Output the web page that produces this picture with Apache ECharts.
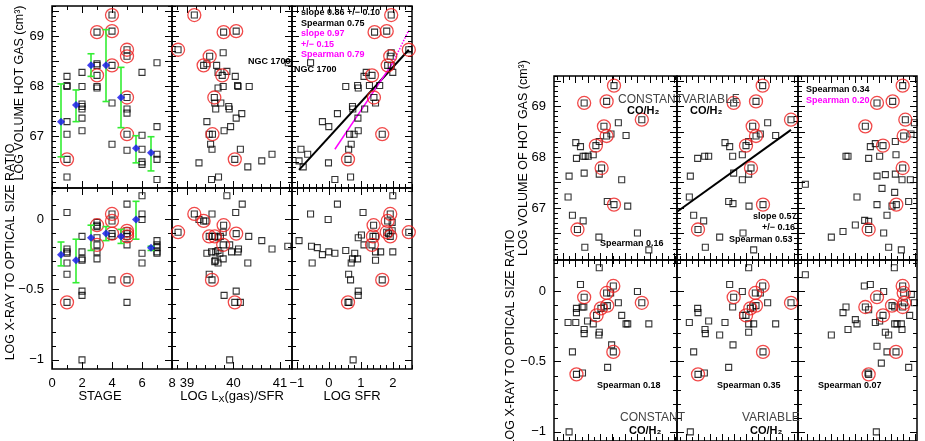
<!DOCTYPE html>
<html><head><meta charset="utf-8">
<script src="https://cdn.jsdelivr.net/npm/echarts@6/dist/echarts.min.js"></script>
<style>html,body{margin:0;padding:0;background:#fff}#c{width:925px;height:441px}</style>
</head><body><div id="c"></div>
<script>
// ---------- DATA: [x, y, circled(1) ] ----------
const stageVol = [[1,68.2,0],[1,68.02,0],[1,68.0,0],[1,67.3,0],[1,67.05,0],[1,66.55,1],[1,66.2,0],[2,68.28,0],[2,68.0,0],[2,67.65,0],[2,67.6,0],[2,67.55,0],[2,67.37,0],[2,67.12,0],[3,69.08,1],[3,68.45,0],[3,68.42,0],[3,68.22,1],[3,68.0,0],[3,67.97,0],[4,69.42,1],[4,69.1,1],[4,68.42,1],[4,67.67,0],[4,66.85,0],[5,68.73,1],[5,68.6,1],[5,67.78,1],[5,67.55,0],[5,67.47,0],[5,67.05,1],[5,66.73,0],[6,68.28,0],[6,67.03,0],[6,66.75,0],[6,66.5,0],[6,66.45,0],[7,68.47,0],[7,67.2,0],[7,66.65,0],[7,66.55,0],[7,66.15,0]];
const stageVolMean = [[0.6,67.3,66.6,68.05],[1.6,67.63,67.3,67.93],[2.6,68.42,68.2,68.65],[3.6,68.42,67.7,69.13],[4.6,67.78,67.18,68.38],[5.6,66.77,66.48,67.02],[6.6,66.68,66.32,67.0]];
const lxVol = [[38.81,68.73,1],[39.16,69.42,1],[39.36,68.42,1],[39.43,68.45,0],[39.49,68.6,1],[39.64,68.42,0],[39.78,68.67,0],[39.67,68.28,0],[39.86,68.3,0],[39.76,68.22,1],[39.67,67.97,0],[39.78,68.0,0],[39.59,67.78,1],[39.6,67.67,0],[39.62,67.55,0],[39.73,67.67,0],[39.9,67.6,0],[39.91,67.55,0],[40.04,68.2,0],[40.09,68.02,0],[40.1,68.0,0],[40.34,68.0,0],[39.79,69.08,1],[40.06,69.1,1],[39.43,67.3,0],[39.48,67.05,0],[39.55,67.05,1],[39.8,67.12,0],[39.94,67.2,0],[40.06,67.37,0],[40.18,67.46,0],[39.51,66.85,0],[39.54,66.75,0],[40.15,66.75,0],[40.03,66.55,1],[39.26,66.48,0],[40.31,66.4,0],[40.61,66.52,0],[40.83,66.65,0],[39.53,66.15,0],[39.68,66.2,0],[41.18,68.47,0]];
const sfrVol = [[-0.93,66.52,0],[-0.8,66.4,0],[-0.87,66.75,0],[-0.66,66.65,0],[-0.57,68.47,0],[-0.2,67.3,0],[0.0,67.2,0],[-0.01,66.48,0],[0.27,67.46,0],[0.19,66.15,0],[0.53,68.0,0],[0.6,66.55,1],[0.62,66.75,0],[0.65,67.05,0],[0.7,66.85,0],[0.68,66.2,0],[0.79,67.05,0],[0.74,67.6,0],[0.75,67.55,0],[0.9,68.02,0],[0.92,67.97,0],[0.91,67.37,0],[0.92,67.12,0],[1.1,68.2,0],[1.12,67.55,0],[1.17,68.28,0],[1.35,68.22,1],[1.27,68.02,0],[1.41,67.78,1],[1.43,69.08,1],[1.46,67.67,0],[1.59,68.02,0],[1.67,67.05,1],[1.81,69.1,1],[1.92,68.6,1],[1.84,68.42,1],[1.95,68.42,0],[1.95,68.67,0],[2.0,68.28,0],[1.95,69.42,1],[2.5,68.73,1]];
const sfrVolFitBlack = [[-0.93,66.34],[2.5,68.73]];
const sfrVolFitMagenta = [[0.19,66.75],[2.0,68.47]];
const sfrVolFitMagentaExt = [[2.0,68.47],[2.5,69.12]];
const stageRatio = [[1,0.05,0],[1,-0.21,0],[1,-0.23,0],[1,-0.24,0],[1,-0.31,0],[1,-0.39,0],[1,-0.59,1],[2,-0.12,0],[2,-0.23,0],[2,-0.28,0],[2,-0.29,0],[2,-0.51,0],[2,-0.54,0],[2,-1.0,0],[3,-0.02,0],[3,-0.04,1],[3,-0.05,0],[3,-0.13,0],[3,-0.18,1],[3,-0.23,0],[3,-0.28,0],[4,0.04,1],[4,-0.01,1],[4,-0.1,1],[4,-0.12,0],[4,-0.43,0],[5,0.11,0],[5,-0.08,1],[5,-0.1,1],[5,-0.12,1],[5,-0.18,0],[5,-0.43,1],[5,-0.59,0],[6,0.17,0],[6,0.04,0],[6,0.0,0],[6,-0.24,0],[6,-0.31,0],[7,-0.15,0],[7,-0.18,0],[7,-0.2,0],[7,-0.23,0],[7,-0.24,0]];
const stageRatioMean = [[0.6,-0.25,-0.16,-0.33],[1.6,-0.29,-0.14,-0.45],[2.6,-0.13,-0.04,-0.22],[3.6,-0.1,-0.05,-0.15],[4.6,-0.12,-0.07,-0.17],[5.6,0.0,0.13,-0.14],[6.6,-0.2,-0.19,-0.22]];
const lxRatio = [[38.81,-0.09,1],[39.16,0.04,1],[39.26,0.0,0],[39.36,-0.01,1],[39.41,-0.01,0],[39.48,-0.12,1],[39.55,-0.12,0],[39.6,-0.12,1],[39.67,-0.13,0],[39.54,0.04,0],[39.43,-0.24,0],[39.53,-0.23,0],[39.62,-0.23,0],[39.67,-0.22,0],[39.71,-0.24,0],[39.61,-0.29,0],[39.6,-0.3,0],[39.67,-0.31,0],[39.78,-0.28,0],[39.48,-0.39,0],[39.54,-0.43,1],[39.72,-0.12,0],[39.78,-0.18,1],[39.79,-0.04,1],[39.78,-0.09,0],[39.86,0.17,0],[39.92,-0.18,0],[39.96,-0.23,0],[39.8,-0.54,0],[39.92,-1.0,0],[40.05,0.05,0],[40.06,-0.1,1],[40.1,-0.23,0],[40.11,-0.21,0],[40.19,0.11,0],[40.33,-0.12,0],[40.06,-0.51,0],[40.15,-0.59,0],[40.03,-0.59,1],[40.31,-0.31,0],[40.61,-0.15,0],[40.83,-0.21,0],[41.17,-0.19,0]];
const sfrRatio = [[-0.93,-0.15,0],[-0.57,0.04,0],[-0.52,-0.31,0],[-0.54,-0.19,0],[-0.36,-0.2,0],[-0.2,-0.25,0],[0.0,-0.23,0],[-0.02,0.0,0],[0.19,-0.24,0],[0.27,0.11,0],[0.53,-0.22,0],[0.62,-0.39,0],[0.68,-0.43,0],[0.6,-0.59,1],[0.63,-0.59,0],[0.7,-0.31,0],[0.74,-0.28,0],[0.81,-0.24,0],[0.9,-0.28,0],[0.92,-0.13,0],[0.92,-0.51,0],[0.92,-0.54,0],[0.76,-1.0,0],[1.07,0.05,0],[1.1,-0.18,0],[1.02,-0.11,0],[1.35,-0.18,1],[1.4,-0.04,1],[1.38,-0.12,1],[1.46,-0.12,0],[1.46,-0.23,0],[1.46,-0.29,0],[1.62,-0.23,0],[1.67,-0.43,1],[1.81,-0.09,1],[1.84,-0.01,1],[1.87,-0.1,0],[1.92,0.04,1],[1.92,-0.12,1],[1.98,-0.02,0],[1.98,-0.08,0],[2.0,0.17,0],[2.0,-0.23,0],[2.5,-0.09,1]];
// right figure (x in unlabelled reading units)
const constVol = [[342,69.41,1],[253,69.07,1],[320,69.1,1],[425,68.74,1],[312,68.61,1],[355,68.68,0],[333,68.46,0],[320,68.42,1],[378,68.43,0],[298,68.31,0],[288,68.23,1],[228,68.29,0],[242,68.21,0],[230,67.98,0],[250,68.02,0],[256,68.02,0],[265,68.02,0],[280,68.05,0],[305,67.79,1],[208,67.63,0],[253,67.69,0],[298,67.67,0],[365,67.56,0],[205,67.22,0],[322,67.13,0],[342,67.07,1],[383,67.04,0],[218,66.86,0],[250,66.75,0],[233,66.58,1],[297,66.43,0],[412,66.51,0],[255,66.23,0],[446,66.18,0]];
const varVol = [[787,69.41,1],[700,69.07,1],[767,69.1,1],[872,68.74,1],[757,68.61,1],[802,68.68,0],[780,68.46,0],[767,68.42,1],[826,68.43,0],[745,68.31,0],[737,68.23,1],[674,68.29,0],[688,68.21,0],[592,67.98,0],[613,68.02,0],[625,68.02,0],[697,68.02,0],[726,68.05,0],[752,67.79,1],[570,67.63,0],[700,67.69,0],[745,67.67,0],[726,67.56,0],[567,67.22,0],[685,67.13,0],[788,67.07,1],[698,67.09,0],[746,67.04,0],[580,66.86,0],[610,66.75,0],[593,66.58,1],[658,66.43,0],[728,66.51,0],[615,66.23,0],[760,66.18,0]];
const varVolFit = [[530,66.93],[872,68.54]];
const thirdVol = [[1207,69.41,1],[1130,69.07,1],[1177,69.1,1],[1215,68.74,1],[1242,68.68,0],[1095,68.61,1],[1232,68.46,0],[1210,68.42,1],[1185,68.31,0],[1125,68.27,0],[1110,68.21,0],[1148,68.23,1],[1037,68.02,0],[1043,68.02,0],[1105,67.98,0],[1138,68.02,0],[1187,68.05,0],[1207,67.79,1],[1155,67.66,0],[1130,67.63,0],[1185,67.67,0],[1205,67.56,0],[1230,67.56,0],[915,67.47,0],[1145,67.39,0],[1183,67.31,0],[1070,67.22,0],[1130,67.07,0],[1175,67.04,0],[1188,67.07,1],[1225,67.13,0],[1160,66.86,0],[1093,66.76,0],[1105,66.74,0],[1065,66.67,0],[1028,66.54,0],[1105,66.58,1],[1150,66.51,0],[993,66.43,0],[1165,66.23,0],[1203,66.18,0]];
const constRatio = [[230,-0.59,1],[248,-0.58,0],[253,-0.04,1],[252,-0.11,0],[247,-0.11,0],[242,0.05,0],[230,-0.12,0],[230,-0.15,0],[205,-0.22,0],[228,-0.22,0],[263,-0.21,0],[280,-0.23,0],[253,-0.27,0],[253,-0.3,0],[298,-0.29,0],[297,-0.31,0],[298,0.17,0],[290,-0.17,1],[303,-0.12,1],[312,-0.11,0],[322,-0.1,1],[320,-0.01,1],[332,-0.01,0],[340,0.04,1],[355,-0.08,0],[365,-0.17,0],[378,-0.23,0],[383,-0.23,0],[412,0.0,0],[425,-0.08,1],[446,-0.23,0],[335,-0.38,0],[340,-0.43,1],[323,-0.54,0],[218,-0.43,0],[208,-1.0,0]];
const varRatio = [[593,-0.59,1],[612,-0.58,0],[700,-0.04,1],[697,-0.11,0],[688,0.05,0],[592,-0.12,0],[593,-0.15,0],[567,-0.22,0],[625,-0.21,0],[674,-0.22,0],[614,-0.27,0],[615,-0.3,0],[658,-0.31,0],[745,-0.29,0],[745,0.17,0],[737,-0.17,1],[727,-0.17,0],[750,-0.12,1],[757,-0.11,0],[767,-0.1,1],[765,-0.01,1],[780,-0.01,0],[787,0.04,1],[802,-0.08,0],[745,-0.23,0],[760,-0.23,0],[726,0.0,0],[872,-0.08,1],[826,-0.23,0],[698,-0.38,0],[788,-0.43,1],[685,-0.54,0],[580,-0.43,0],[570,-1.0,0]];
const thirdRatio = [[915,0.12,0],[1105,-0.59,1],[1103,-0.58,0],[1130,-0.04,1],[1095,-0.11,1],[1105,-0.13,0],[1110,0.05,0],[1092,0.04,0],[1037,-0.11,0],[1028,-0.15,0],[993,-0.31,0],[1043,-0.27,0],[1065,-0.2,0],[1070,-0.23,0],[1125,-0.22,0],[1138,-0.21,0],[1150,0.0,0],[1148,-0.17,1],[1155,-0.29,0],[1165,-0.31,0],[1175,-0.1,1],[1183,-0.11,0],[1183,-0.23,0],[1190,-0.23,0],[1203,-0.23,0],[1205,-0.27,0],[1187,-0.43,1],[1160,-0.43,0],[1143,-0.51,0],[1130,-0.39,0],[1182,0.17,0],[1207,0.04,1],[1210,-0.01,1],[1212,-0.08,1],[1207,-0.11,1],[1233,-0.02,0],[1242,-0.08,0],[1228,-0.17,0],[1225,-0.54,0],[1128,-1.0,0]];
// tick labels
const volLabels = [67,68,69];
const ratioLabels = [0,-0.5,-1];
const stageLabels = [0,2,4,6,8];
const lxLabels = [39,40,41];
const sfrLabels = [-1,0,1,2];

// ---------- BUILD ----------
function range(a,b,s){const r=[];for(let v=a;v<=b+1e-9;v+=s)r.push(+v.toFixed(4));return r;}
const VOL=[65.98,69.6], RAT=[-1.065,0.225];
const volT={maj:range(66,69.5,0.5),min:range(66,69.6,0.1)};
const ratT={maj:range(-1,0,0.5),min:range(-1,0.2,0.1)};
const panels=[
 {g:[52,6,120,182],x:[0,8],y:VOL,d:stageVol,mean:stageVolMean,xt:{maj:range(0,8,2),min:range(0,8,1)},yt:volT,yl:volLabels},
 {g:[172,6,120,182],x:[38.68,41.26],y:VOL,d:lxVol,xt:{maj:range(39,41,1),min:range(38.8,41.2,0.2)},yt:volT},
 {g:[292,6,120,182],x:[-1.15,2.6],y:VOL,d:sfrVol,xt:{maj:range(-1,2,1),min:range(-1,2.6,0.2)},yt:volT,
   lines:[[sfrVolFitBlack,'#000','solid',2],[sfrVolFitMagenta,'#ff00ff','solid',1.5],[sfrVolFitMagentaExt,'#ff00ff','dotted',1.5]]},
 {g:[52,188,120,181],x:[0,8],y:RAT,d:stageRatio,mean:stageRatioMean,xt:{maj:range(0,8,2),min:range(0,8,1)},yt:ratT,yl:ratioLabels,xl:stageLabels},
 {g:[172,188,120,181],x:[38.68,41.26],y:RAT,d:lxRatio,xt:{maj:range(39,41,1),min:range(38.8,41.2,0.2)},yt:ratT,xl:lxLabels},
 {g:[292,188,120,181],x:[-1.15,2.6],y:RAT,d:sfrRatio,xt:{maj:range(-1,2,1),min:range(-1,2.6,0.2)},yt:ratT,xl:sfrLabels},
 {g:[554,76,123,184],x:[163,530],y:VOL,d:constVol,xt:{maj:range(190,530,37),min:range(172,530,18.5)},yt:volT,yl:volLabels},
 {g:[677,76,121,184],x:[530,893],y:VOL,d:varVol,xt:{maj:range(557,893,36),min:range(539,893,18)},yt:volT,lines:[[varVolFit,'#000','solid',2]]},
 {g:[798,76,119,184],x:[893,1250],y:VOL,d:thirdVol,xt:{maj:range(920,1250,36),min:range(902,1250,18)},yt:volT},
 {g:[554,260,123,181],x:[163,530],y:RAT,d:constRatio,xt:{maj:range(190,530,37),min:range(172,530,18.5)},yt:ratT,yl:ratioLabels},
 {g:[677,260,121,181],x:[530,893],y:RAT,d:varRatio,xt:{maj:range(557,893,36),min:range(539,893,18)},yt:ratT},
 {g:[798,260,119,181],x:[893,1250],y:RAT,d:thirdRatio,xt:{maj:range(920,1250,36),min:range(902,1250,18)},yt:ratT},
];
const fmt=v=>String(v).replace('-','\u2212');
const grid=[],xAxis=[],yAxis=[],series=[];
panels.forEach((p,i)=>{
  grid.push({left:p.g[0],top:p.g[1],width:p.g[2],height:p.g[3],show:true,borderColor:'#000',borderWidth:1.5,containLabel:false});
  const xi=xAxis.length, yi=yAxis.length;
  const mk=(isX,pos,vals,len,labels)=>({type:'value',gridIndex:i,position:pos,min:(isX?p.x:p.y)[0],max:(isX?p.x:p.y)[1],
     axisLine:{show:false,onZero:false},splitLine:{show:false},
     axisTick:{show:true,inside:true,length:len,customValues:vals,lineStyle:{color:'#000',width:1}},
     axisLabel:labels?{show:true,customValues:labels,formatter:fmt,color:'#000',fontSize:13,fontFamily:'Liberation Sans',margin:8}:{show:false}});
  xAxis.push(mk(true,'bottom',p.xt.maj,7,p.xl),mk(true,'top',p.xt.maj,7,null),mk(true,'bottom',p.xt.min,4,null),mk(true,'top',p.xt.min,4,null));
  yAxis.push(mk(false,'left',p.yt.maj,7,p.yl),mk(false,'right',p.yt.maj,7,null),mk(false,'left',p.yt.min,4,null),mk(false,'right',p.yt.min,4,null));
  (p.lines||[]).forEach(l=>series.push({type:'line',xAxisIndex:xi,yAxisIndex:yi,data:l[0],symbol:'none',silent:true,
     lineStyle:{color:l[1],type:l[2],width:l[3]},z:3}));
  series.push({type:'scatter',xAxisIndex:xi,yAxisIndex:yi,data:p.d.map(r=>[r[0],r[1]]),symbol:'rect',symbolSize:6,
     itemStyle:{color:'rgba(0,0,0,0)',borderColor:'#000',borderWidth:1.1},z:4});
  series.push({type:'scatter',xAxisIndex:xi,yAxisIndex:yi,data:p.d.filter(r=>r[2]).map(r=>[r[0],r[1]]),symbol:'circle',symbolSize:13,
     itemStyle:{color:'rgba(0,0,0,0)',borderColor:'#ee1c1c',borderWidth:1.3},z:5});
  if(p.mean){
    series.push({type:'custom',xAxisIndex:xi,yAxisIndex:yi,data:p.mean,z:6,
      renderItem:(params,api)=>{const x=api.value(0);const a=api.coord([x,api.value(2)]),b=api.coord([x,api.value(3)]);
        const st={stroke:'#33ee33',lineWidth:1.6};
        return {type:'group',children:[
          {type:'line',shape:{x1:a[0],y1:a[1],x2:b[0],y2:b[1]},style:st},
          {type:'line',shape:{x1:a[0]-3.5,y1:a[1],x2:a[0]+3.5,y2:a[1]},style:st},
          {type:'line',shape:{x1:b[0]-3.5,y1:b[1],x2:b[0]+3.5,y2:b[1]},style:st}]};},
      encode:{x:0,y:1}});
    series.push({type:'scatter',xAxisIndex:xi,yAxisIndex:yi,data:p.mean.map(r=>[r[0],r[1]]),symbol:'diamond',symbolSize:8,
      itemStyle:{color:'#1010ee'},z:7});
  }
});
const F='Liberation Sans';
const T=(x,y,text,o={})=>({type:'text',x,y,z:100,rotation:o.rot||0,style:{text,fill:o.c||'#000',font:(o.w||'bold')+' '+(o.s||9)+'px "'+F+'"',
   align:o.a||'left',verticalAlign:'middle',rich:o.rich}});
const rot=Math.PI/2;
const graphic=[
 T(20,93,'LOG VOLUME HOT GAS (cm\u00b3)',{rot,a:'center',s:12.5,w:'normal'}),
 T(11,252,'LOG X-RAY TO OPTICAL SIZE RATIO',{rot,a:'center',s:12.5,w:'normal'}),
 T(100,396,'STAGE',{a:'center',s:13,w:'normal'}),
 {type:'text',x:232,y:396,z:100,style:{text:'{a|LOG L}{s|X}{a|(gas)/SFR}',align:'center',verticalAlign:'middle',
   rich:{a:{fontSize:13,fontFamily:F,fill:'#000'},s:{fontSize:9,fontFamily:F,fill:'#000',padding:[8,0,0,0]}}}},
 T(352,396,'LOG SFR',{a:'center',s:13,w:'normal'}),
 T(248,62,'NGC 1700'),T(294,70,'NGC 1700'),
 T(301,13,'slope 0.86 +/\u2212 0.10'),T(301,24,'Spearman 0.75'),
 T(301,34,'slope 0.97',{c:'#ff00ff'}),T(301,45,'+/\u2212 0.15',{c:'#ff00ff'}),T(301,55,'Spearman 0.79',{c:'#ff00ff'}),
 T(524,158,'LOG VOLUME OF HOT GAS (cm\u00b3)',{rot,a:'center',s:12.5,w:'normal'}),
 T(511,338,'LOG X-RAY TO OPTICAL SIZE RATIO',{rot,a:'center',s:12.5,w:'normal'}),
 T(618,100,'CONSTANT',{s:12,w:'normal',c:'#444'}),T(627,111,'CO/H\u2082',{s:11}),
 T(682,100,'VARIABLE',{s:12,w:'normal',c:'#444'}),T(690,111,'CO/H\u2082',{s:11}),
 T(600,244,'Spearman 0.16'),T(729,240,'Spearman 0.53'),
 T(753,217,'slope 0.57'),T(762,228,'+/\u2212 0.16'),
 T(806,90,'Spearman 0.34'),T(806,101,'Spearman 0.20',{c:'#ff00ff'}),
 T(597,386,'Spearman 0.18'),T(717,386,'Spearman 0.35'),T(818,386,'Spearman 0.07'),
 T(620,418,'CONSTANT',{s:12,w:'normal',c:'#444'}),T(629,431,'CO/H\u2082',{s:11}),
 T(742,418,'VARIABLE',{s:12,w:'normal',c:'#444'}),T(750,431,'CO/H\u2082',{s:11}),
];
const chart=echarts.init(document.getElementById('c'),null,{renderer:'canvas'});
chart.setOption({animation:false,backgroundColor:'#fff',grid,xAxis,yAxis,series,graphic});
</script></body></html>
